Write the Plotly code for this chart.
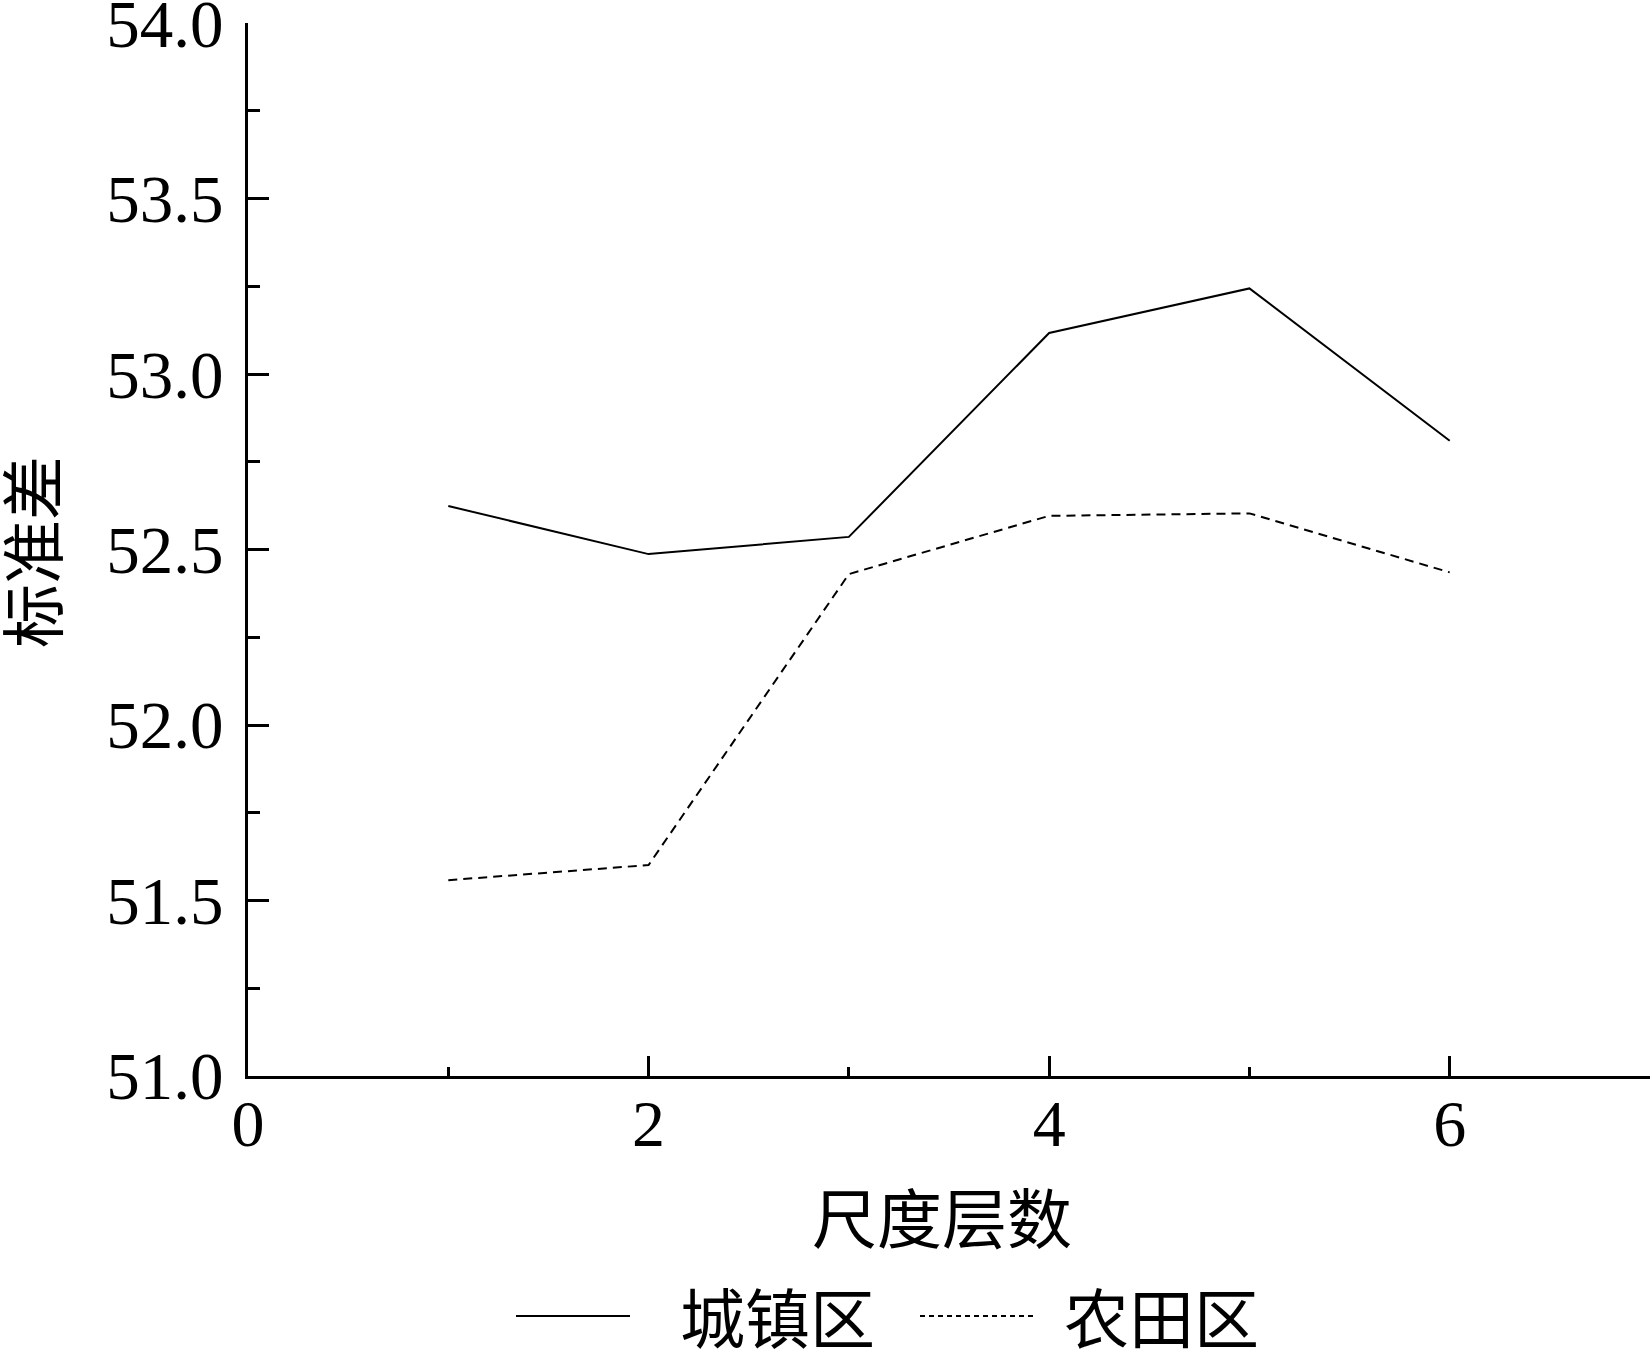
import plotly.graph_objects as go

# Data
scale_levels = [1, 2, 3, 4, 5, 6]
urban_std = [52.624, 52.487, 52.536, 53.117, 53.244, 52.810]
farm_std = [51.558, 51.601, 52.430, 52.596, 52.603, 52.435]
series_names = ["城镇区", "农田区"]
x_title = "尺度层数"
y_title = "标准差"
x_tickvals = [0, 2, 4, 6]
y_tickvals = [51.0, 51.5, 52.0, 52.5, 53.0, 53.5, 54.0]

FONT = "Liberation Serif, 'Noto Sans CJK SC', serif"
W, H = 1652, 1351
ML, MR, MT, MB = 248, 2, 23, 275
PW, PH = W - ML - MR, H - MT - MB


def px_to_paper_x(px):
    return (px - ML) / PW


def px_to_paper_y(py):
    return (H - MB - py) / PH


fig = go.Figure()
fig.add_trace(go.Scatter(x=scale_levels, y=urban_std, mode="lines", name=series_names[0],
                         line=dict(color="black", width=2), showlegend=False))
fig.add_trace(go.Scatter(x=scale_levels, y=farm_std, mode="lines", name=series_names[1],
                         line=dict(color="black", width=2, dash="9px,6px"), showlegend=False))

fig.update_layout(
    width=W, height=H,
    margin=dict(l=ML, r=MR, t=MT, b=MB, pad=0, autoexpand=False),
    paper_bgcolor="white", plot_bgcolor="white",
    font=dict(family=FONT, size=65, color="black"),
    showlegend=False,
)
fig.update_xaxes(
    range=[0, 7], tickvals=x_tickvals, ticktext=[str(v) for v in x_tickvals],
    showline=True, linecolor="black", linewidth=3, mirror=False,
    ticks="inside", ticklen=20, tickwidth=3, tickcolor="black",
    minor=dict(ticks="inside", ticklen=9, tickwidth=3, tickcolor="black", dtick=1, tick0=0, showgrid=False),
    showgrid=False, zeroline=False, ticklabeloverflow="allow", automargin=False,
    ticklabelstandoff=-12,
    tickfont=dict(family=FONT, size=66, color="black"),
)
fig.update_yaxes(
    range=[51, 54.0002], tickvals=y_tickvals, ticktext=[f"{v:.1f}" for v in y_tickvals],
    showline=True, linecolor="black", linewidth=3, mirror=False,
    ticks="inside", ticklen=21, tickwidth=3, tickcolor="black",
    minor=dict(ticks="inside", ticklen=12, tickwidth=3, tickcolor="black", dtick=0.25, tick0=51, showgrid=False),
    showgrid=False, zeroline=False, ticklabelstandoff=8, ticklabeloverflow="allow", automargin=False,
    tickfont=dict(family=FONT, size=67, color="black"),
)

# Axis titles
fig.add_annotation(text=x_title, xref="paper", yref="paper", x=px_to_paper_x(942), y=px_to_paper_y(1221),
                   xanchor="center", yanchor="middle", showarrow=False, font=dict(family=FONT, size=65))
fig.add_annotation(text=y_title, xref="paper", yref="paper", x=px_to_paper_x(36), y=px_to_paper_y(552),
                   xanchor="center", yanchor="middle", textangle=-90, showarrow=False, font=dict(family=FONT, size=64))

# Legend (drawn below the axis title)
leg_y = px_to_paper_y(1316)
fig.add_shape(type="line", xref="paper", yref="paper", x0=px_to_paper_x(516), x1=px_to_paper_x(630),
              y0=leg_y, y1=leg_y, line=dict(color="black", width=2))
fig.add_annotation(text=series_names[0], xref="paper", yref="paper", x=px_to_paper_x(678), y=px_to_paper_y(1321),
                   xanchor="left", yanchor="middle", showarrow=False, font=dict(family=FONT, size=65))
fig.add_shape(type="line", xref="paper", yref="paper", x0=px_to_paper_x(920), x1=px_to_paper_x(1033),
              y0=leg_y, y1=leg_y, line=dict(color="black", width=2, dash="5px,4px"))
fig.add_annotation(text=series_names[1], xref="paper", yref="paper", x=px_to_paper_x(1062), y=px_to_paper_y(1321),
                   xanchor="left", yanchor="middle", showarrow=False, font=dict(family=FONT, size=65))

fig.write_html("out.html", config={"displayModeBar": False},
               post_script="document.body.style.margin='0';")
